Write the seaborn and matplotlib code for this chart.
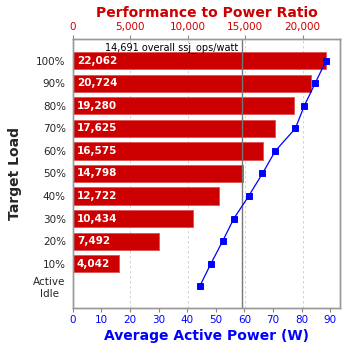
import matplotlib
matplotlib.use("Agg")
import matplotlib.pyplot as plt
import seaborn as sns
import numpy as np
import pandas as pd

sns.set_style("white")
plt.rcParams['font.family'] = ['DejaVu Sans']

loads = ["100%", "90%", "80%", "70%", "60%", "50%", "40%", "30%", "20%", "10%", "Active\nIdle"]
ratio = [22062, 20724, 19280, 17625, 16575, 14798, 12722, 10434, 7492, 4042, 0]
power = [88.5, 84.7, 80.9, 77.8, 70.8, 66.3, 61.5, 56.3, 52.4, 48.3, 44.4]
overall = 14691

df = pd.DataFrame({"load": loads, "ratio": ratio, "power": power})

fig = plt.figure(figsize=(3.48, 3.48), dpi=100)
ax = fig.add_axes([0.209, 0.115, 0.768, 0.773])

red = "#cc0000"
blue = "#0000ff"

sns.barplot(data=df, x="ratio", y="load", orient="h", color=red, saturation=1,
            width=0.76, edgecolor="#e05050", linewidth=0.6, ax=ax)
ax.set_xlim(0, 23250)
ax.set_ylim(10.97, -0.97)
ax.set_xlabel("")
ax.set_ylabel("Target Load", fontsize=10, fontweight="bold", labelpad=8)
ax.tick_params(axis="y", labelsize=7.5, length=3, color="#888888", pad=2)
for lab in ax.get_yticklabels():
    lab.set_multialignment("center")
ax.grid(axis="x", color="#cccccc", linestyle=(0, (3, 3)), linewidth=0.6)
ax.set_axisbelow(True)

for bar, v in zip(ax.patches, ratio):
    if v > 0:
        ax.text(350, bar.get_y() + bar.get_height() / 2, f"{v:,}",
                color="white", fontweight="bold", fontsize=7.5, va="center", ha="left")

ax.axvline(overall, color="#777777", linewidth=1)
ax.text(overall - 250, -0.6, f"{overall:,} overall ssj_ops/watt", ha="right", va="center",
        fontsize=7, color="black")

ax2 = ax.twiny()
sns.pointplot(data=df, x="power", y="load", orient="h", color=blue, markers="s",
              linestyles="-", ax=ax2, markersize=5, linewidth=0.9)
ax2.set_ylim(10.97, -0.97)
ax2.set_xlim(0, 93.4)
ax2.xaxis.tick_bottom()
ax2.xaxis.set_label_position("bottom")
ax2.set_xticks(range(0, 100, 10))
ax2.tick_params(axis="x", labelcolor=blue, labelsize=7.5, length=3, color="#888888", pad=2)
ax2.set_xlabel("Average Active Power (W)", color=blue, fontsize=10, fontweight="bold", labelpad=3)
ax2.set_ylabel("")

# bar axis ticks on top
ax.xaxis.tick_top()
ax.xaxis.set_label_position("top")
ax.set_xticks([0, 5000, 10000, 15000, 20000])
ax.set_xticklabels([f"{v:,}" for v in [0, 5000, 10000, 15000, 20000]])
ax.tick_params(axis="x", labelcolor=red, labelsize=7.5, length=3, color="#888888", pad=2,
               top=True, labeltop=True, bottom=False, labelbottom=False)

for a in (ax, ax2):
    for s in a.spines.values():
        s.set_color("#999999")
        s.set_linewidth(1)

fig.text(0.595, 0.962, "Performance to Power Ratio", color=red, fontsize=10,
         fontweight="bold", ha="center", va="center")

fig.savefig("out.png", dpi=100)
